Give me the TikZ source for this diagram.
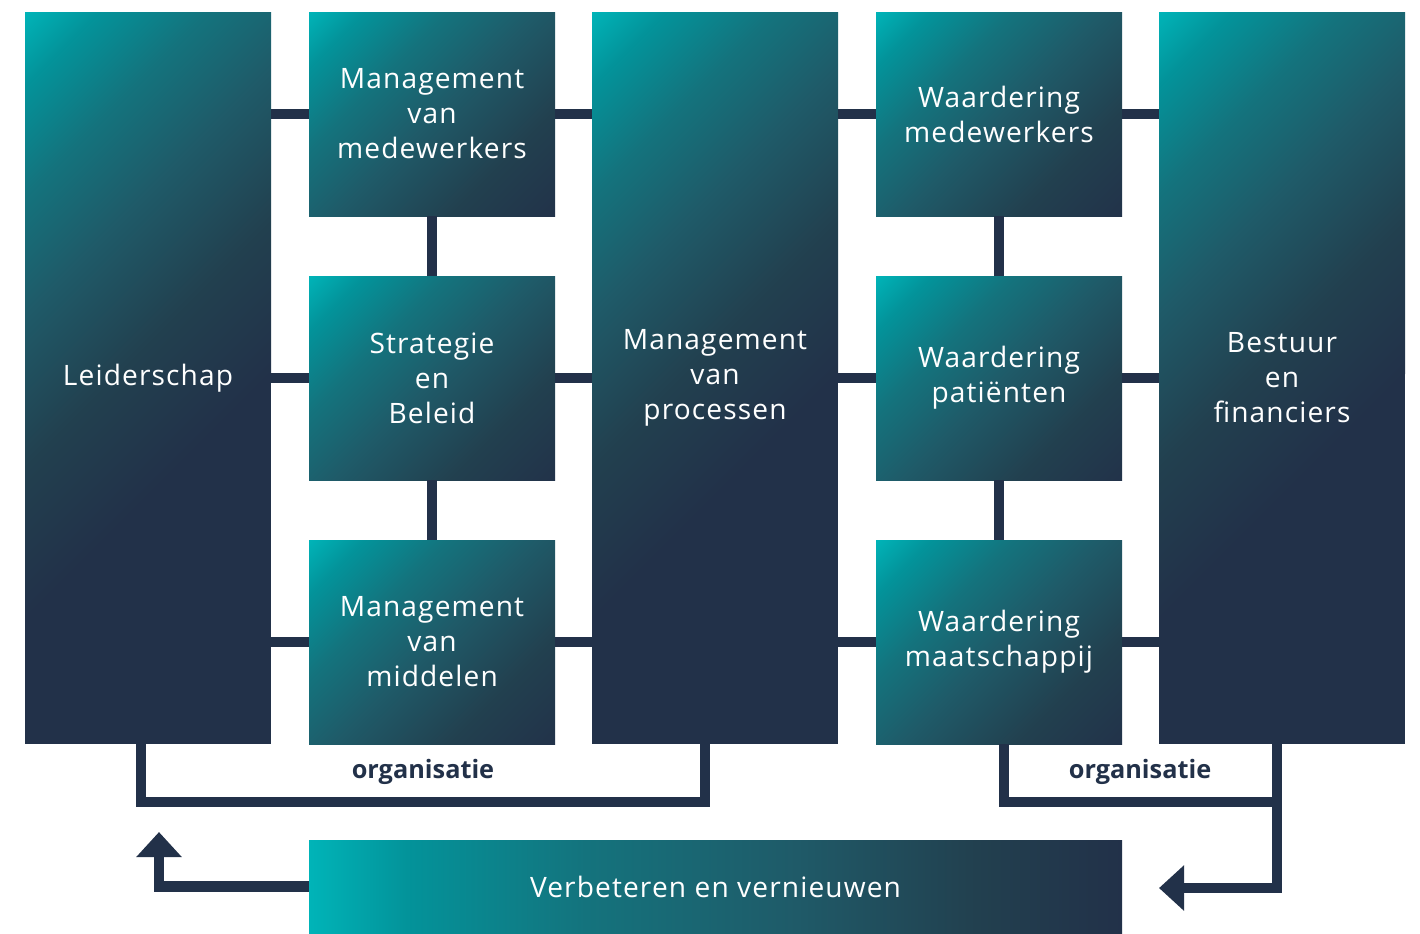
\documentclass[tikz,border=0pt]{standalone}
\usepackage{fontspec}
\setmainfont{Open Sans}
\newfontfamily\blokfont[LetterSpace=4]{Open Sans}
\usetikzlibrary{arrows.meta}
\usetikzlibrary{positioning}
\definecolor{zteal}{HTML}{00B4B8}
\definecolor{ztealb}{HTML}{03939A}
\definecolor{ztealc}{HTML}{14737D}
\definecolor{ztead}{HTML}{1F5A68}
\definecolor{zteale}{HTML}{22404F}
\definecolor{znavy}{HTML}{223149}
\pgfdeclarehorizontalshading{zdiag}{100bp}{color(0bp)=(zteal); color(25bp)=(zteal);
 color(31bp)=(ztealb); color(40bp)=(ztealc); color(50bp)=(ztead);
 color(62.5bp)=(zteale); color(75bp)=(znavy); color(100bp)=(znavy)}
\pgfdeclarehorizontalshading{zbalk}{100bp}{color(0bp)=(zteal); color(25bp)=(zteal);
 color(31bp)=(ztealb); color(42bp)=(ztealc); color(55bp)=(ztead);
 color(66bp)=(zteale); color(75bp)=(znavy); color(100bp)=(znavy)}
\tikzset{
 verloop/.style={path picture={
   \fill[znavy] (path picture bounding box.south west) rectangle (path picture bounding box.north east);
   \shade[shading=zdiag,
    transform canvas={rotate around={-45:(path picture bounding box.north west)}}]
    ([yshift=-7cm]path picture bounding box.north west) rectangle ([xshift=#1,yshift=7cm]path picture bounding box.north west);
  }},
 blok/.style={minimum width=24.6mm, minimum height=20.4mm, inner sep=0pt, outer sep=0pt,
  align=center, text=white, font=\blokfont\fontsize{8}{9.96}\selectfont, verloop=3.25cm},
 hoog/.style={blok, minimum height=73.2mm, verloop=4.3cm},
 balk/.style={minimum width=81.3mm, minimum height=9.3mm, inner sep=0pt, outer sep=0pt,
  shading=zbalk, text=white, font=\blokfont\fontsize{8}{9.96}\selectfont},
 lijn/.style={draw=znavy, line width=1.05mm, line join=miter},
 pijl/.style={lijn, -{Triangle[width=4.4mm,length=2.5mm]}},
 label/.style={text=znavy, font=\bfseries\fontsize{7.2}{8}\selectfont},
}

\begin{document}
\begin{tikzpicture}[x=0.1mm, y=-0.1mm]
    \useasboundingbox (0,0) rectangle (1420,933);

    % kolommen
    \node[hoog] (leid) at (148,378) {Leiderschap};
    \node[blok] (mmed) at (432,114) {Management\\van\\medewerkers};
    \node[blok] (strat) at (432,378) {Strategie\\en\\Beleid};
    \node[blok] (mmid) at (432,642) {Management\\van\\middelen};
    \node[hoog] (proc) at (715,378) {Management\\van\\processen};
    \node[blok] (wmed) at (999,114) {Waardering\\medewerkers};
    \node[blok] (wpat) at (999,378) {Waardering\\patiënten};
    \node[blok] (wmaat) at (999,642) {Waardering\\maatschappij};
    \node[hoog] (best) at (1282,378) {Bestuur\\en\\financiers};
    \node[balk] (verb) at (715.5,886.5) {Verbeteren en vernieuwen};

    \node[label] (org1) at (423,772) {organisatie};
    \node[label] (org2) at (1140,772) {organisatie};

    \coordinate (pijlL) at (159,832);
    \coordinate (pijlR) at (1159,888);
    \coordinate (hoekR) at (1277,802);

    % verbindingen
    \draw[lijn] (leid.east |- mmed.west) -- (mmed.west);
    \draw[lijn] (leid.east |- strat.west) -- (strat.west);
    \draw[lijn] (leid.east |- mmid.west) -- (mmid.west);
    \draw[lijn] (mmed.east) -- (proc.west |- mmed.east);
    \draw[lijn] (strat.east) -- (proc.west |- strat.east);
    \draw[lijn] (mmid.east) -- (proc.west |- mmid.east);
    \draw[lijn] (proc.east |- wmed.west) -- (wmed.west);
    \draw[lijn] (proc.east |- wpat.west) -- (wpat.west);
    \draw[lijn] (proc.east |- wmaat.west) -- (wmaat.west);
    \draw[lijn] (wmed.east) -- (best.west |- wmed.east);
    \draw[lijn] (wpat.east) -- (best.west |- wpat.east);
    \draw[lijn] (wmaat.east) -- (best.west |- wmaat.east);
    \draw[lijn] (mmed) -- (strat);
    \draw[lijn] (strat) -- (mmid);
    \draw[lijn] (wmed) -- (wpat);
    \draw[lijn] (wpat) -- (wmaat);

    % organisatie
    \draw[lijn] ([xshift=-0.7mm]leid.south) -- ++(0,58) -| ([xshift=-1mm]proc.south);
    \draw[lijn] ([xshift=0.5mm]wmaat.south) |- (hoekR);
    \draw[pijl] ([xshift=-0.5mm]best.south) |- (pijlR);
    \draw[pijl] (verb.west) -| (pijlL);
\end{tikzpicture}
\end{document}
